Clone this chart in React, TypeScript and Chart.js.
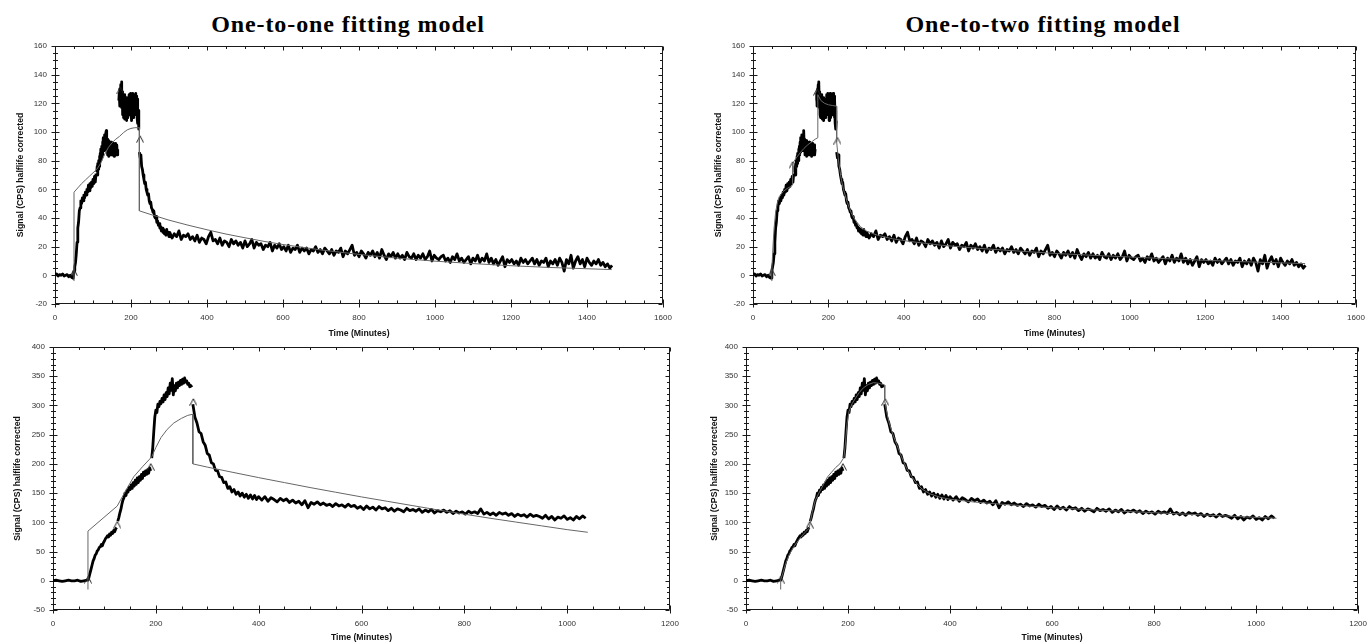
import React, { useEffect, useRef } from "react";
import { Chart, registerables } from "chart.js";
Chart.register(...registerables);

// ---------------- Top row (experiment 1) ----------------
const topTicksX = [0, 200, 400, 600, 800, 1000, 1200, 1400, 1600];
const topTicksY = [-20, 0, 20, 40, 60, 80, 100, 120, 140, 160];
const topMinorX = 50;
const topMinorY = 5;

// measured signal pieces: values sampled from a start minute at a fixed step
const topBaseline = [0.5, 1, -0.5, 0.5, 0, 1, -0.5, 0, 0.5, -1, 0, -1.5, -2]; // 0..48 / 4
const topRise1 = [3, 6, 9, 15, 23, 33, 37, 45, 47, 52, 50, 54, 52, 56, 54, 58, 56, 60, 58, 63, 59, 64, 61, 65, 62, 67, 64, 69, 65, 71]; // 50..108 / 2
const topRise2 = [72, 76, 70, 78, 74, 80, 76, 83, 78, 85, 80, 88, 82, 90, 84, 93, 86, 96, 88, 92, 98, 87, 94, 90, 99, 101, 88, 95, 84, 92, 86, 94, 83, 90, 85, 93, 84, 91, 86, 93, 85, 90, 84, 92, 86, 89, 83, 91, 85, 92, 84, 90, 86, 91, 84, 88]; // 110..165 / 1
const topPlateau = [122, 127, 118, 130, 124, 133, 120, 135, 117, 128, 112, 125, 110, 122, 114, 126, 109, 120, 113, 124, 108, 118, 112, 123, 110, 120, 115, 126, 112, 122, 116, 127, 114, 121, 108, 118, 112, 127, 110, 122, 115, 126, 112, 124, 118, 127, 114, 125, 110, 123, 106, 115, 102, 108]; // 168..221 / 1
const topDecayA = [86, 82, 84, 76, 74, 70, 67, 64, 65, 60, 58, 56, 57, 52, 50, 51, 47, 46, 44, 45, 41, 40, 41, 37, 38, 35, 36, 33, 34, 31, 33, 30, 32, 29, 31, 28, 32, 29, 30, 27]; // 222..300 / 2
const topDecayB = [
  30, 26, 29, 27, 31, 25, 28, 27, 29, 25,
  27, 24, 28, 23, 26, 25, 22, 27, 30, 24,
  25, 22, 26, 21, 24, 23, 20, 25, 22, 24,
  21, 23, 19, 24, 20, 22, 25, 19, 23, 21,
  22, 18, 21, 20, 23, 17, 21, 19, 22, 18,
  20, 17, 21, 16, 19, 18, 21, 16, 19, 17,
  19, 15, 18, 17, 20, 16, 18, 15, 19, 17,
  15, 18, 14, 17, 16, 19, 13, 17, 15, 18,
  21, 14, 16, 13, 17, 15, 12, 16, 14, 17,
  13, 16, 12, 18, 14, 11, 15, 13, 16, 12,
  15, 12, 14, 11, 16, 13, 12, 15, 11, 14,
  12, 15, 11, 13, 17, 10, 14, 12, 11, 13,
  14, 10, 12, 9, 13, 11, 15, 10, 12, 9,
  11, 13, 8, 12, 10, 14, 9, 12, 10, 15,
  9, 12, 8, 11, 7, 10, 13, 6, 11, 9,
  11, 8, 10, 7, 12, 9, 11, 8, 10, 12,
  8, 11, 7, 10, 9, 12, 6, 10, 8, 11,
  7, 12, 9, 3, 11, 8, 14, 5, 10, 13,
  8, 11, 6, 12, 9, 7, 10, 8, 11, 7,
  9, 6, 8, 5, 7,
]; // 302..1466 / 6

// fitted curves (minutes, signal)
const fitTopOneT = [50, 50, 60, 70, 80, 90, 100, 110, 120, 130, 140, 150, 160, 170, 180, 190, 200, 210, 222, 222, 250, 300, 350, 400, 450, 500, 550, 600, 700, 800, 900, 1000, 1100, 1200, 1300, 1400, 1465];
const fitTopOneY = [-4, 58, 61, 64, 66.5, 69, 71.5, 74, 78, 84, 89, 92.5, 95, 97, 99.5, 101.5, 102.5, 103, 103, 45, 42.6, 38.5, 35, 31.8, 28.8, 26.2, 23.7, 21.5, 17.7, 14.6, 12, 9.9, 8.2, 6.7, 5.5, 4.6, 4];
const fitTopTwoT = [50, 50, 53, 56, 60, 65, 70, 80, 90, 100, 105, 105, 115, 125, 135, 145, 155, 165, 172, 172, 180, 190, 200, 210, 222, 222, 226, 230, 235, 240, 250, 260, 270, 285, 300, 330, 370, 420, 500, 600, 700, 800, 900, 1000, 1100, 1200, 1300, 1400, 1465];
const fitTopTwoY = [-4, 4, 20, 33, 44, 51, 55, 58.5, 60.5, 62, 63, 78, 82, 85.5, 88.5, 91, 93, 95, 96, 126, 122, 120, 119, 118.5, 118, 93, 82, 74, 66, 60, 51, 44, 39, 34, 31, 28, 25.5, 23.5, 21, 18.8, 17, 15.3, 14, 12.8, 11.6, 10.5, 9.5, 8.7, 8.2];

// injection markers
const caretTopOneT = [50, 172, 224];
const caretTopOneY = [2, 129, 95];
const caretTopTwoT = [50, 105, 170, 224];
const caretTopTwoY = [2, 77, 128, 94];

// ---------------- Bottom row (experiment 2) ----------------
const botTicksX = [0, 200, 400, 600, 800, 1000, 1200];
const botTicksY = [-50, 0, 50, 100, 150, 200, 250, 300, 350, 400];
const botMinorX = 50;
const botMinorY = 10;

const botBaseline = [0, 1, 0, -1, 0, 1, 0, 0, 1, -1, 0, 1]; // 0..66 / 6
const botRise1 = [1, 6, 13, 20, 27, 34, 38, 44, 46, 51, 53, 57, 58, 62, 60, 65, 68, 72, 74, 77, 75, 80, 78, 83, 81, 86, 84, 89, 91]; // 68..124 / 2
const botRise2 = [102, 108, 116, 122, 131, 138, 142, 150, 146, 155, 152, 160, 156, 164, 158, 168, 162, 172, 165, 176, 168, 178, 172, 182, 175, 186, 180, 188, 182, 190, 184, 193, 188]; // 126..190 / 2
const botRise3 = [210, 228, 255, 280, 292, 288, 302, 298, 307, 303, 312, 306, 318, 310, 322, 315, 330, 320, 338, 326, 346, 318, 334, 325, 338, 330, 340, 334, 343, 336, 345, 338, 347, 340, 342, 336, 338, 332, 334, 331]; // 192..270 / 2
const botDecayA = [302, 280, 270, 255, 252, 238, 232, 218, 215, 202, 200, 189, 188, 178, 177, 168, 169, 158, 161, 152, 156, 148, 152, 145, 150, 143, 148, 141, 147, 140, 146, 139, 144]; // 272..400 / 4
const botDecayB = [
  138, 144, 136, 142, 139, 135, 141, 137, 140, 134,
  138, 133, 136, 130, 137, 125, 134, 131, 135, 130,
  133, 129, 131, 127, 132, 128, 130, 126, 131, 127,
  129, 124, 127, 122, 128, 123, 126, 121, 127, 123,
  125, 120, 124, 119, 123, 121, 118, 124, 120, 122,
  119, 123, 117, 121, 118, 122, 116, 120, 118, 121,
  117, 120, 115, 119, 116, 118, 114, 119, 116, 118,
  115, 123, 114, 117, 113, 116, 112, 117, 114, 116,
  112, 115, 110, 114, 111, 113, 109, 114, 110, 112,
  110, 107, 112, 106, 110, 104, 109, 107, 111, 105,
  108, 104, 110, 106, 111, 107,
]; // 406..1036 / 6

const fitBotOneT = [68, 68, 125, 140, 157, 175, 192, 200, 210, 222, 235, 250, 262, 272, 272, 300, 350, 400, 450, 500, 550, 600, 650, 700, 750, 800, 850, 900, 950, 1000, 1040];
const fitBotOneY = [-15, 85, 128, 152, 178, 196, 212, 228, 245, 259, 270, 278, 283, 285, 200, 194.5, 185.5, 176.5, 168, 159.5, 151.5, 143.5, 136, 128.5, 121, 114, 107, 100.5, 94, 87.5, 83];
const fitBotTwoT = [68, 68, 72, 78, 85, 92, 100, 108, 116, 124, 126, 130, 136, 144, 152, 160, 168, 176, 184, 192, 192, 195, 198, 202, 208, 215, 222, 230, 240, 250, 260, 268, 272, 272, 276, 280, 288, 296, 305, 315, 325, 335, 345, 360, 380, 400, 450, 500, 600, 700, 800, 900, 1000, 1040];
const fitBotTwoY = [-15, 2, 12, 30, 45, 56, 66, 75, 83, 90, 100, 118, 138, 152, 165, 178, 186, 194, 200, 211, 211, 236, 268, 290, 303, 313, 322, 330, 336, 339, 338, 336, 335, 308, 288, 272, 250, 232, 212, 192, 178, 166, 157, 149, 143, 139.5, 134.5, 131, 125, 120.5, 116.5, 112.5, 108.5, 107];

const caretBotT = [68, 125, 190, 273];
const caretBotY = [2, 96, 195, 306];

// traces: each is a list of pieces [startMinute, stepMinutes, values]
type Piece = { start: number; step: number; values: number[] };
const topTraces: Piece[][] = [
  [{ start: 0, step: 4, values: topBaseline }, { start: 50, step: 2, values: topRise1 }],
  [{ start: 110, step: 1, values: topRise2 }],
  [{ start: 168, step: 1, values: topPlateau }],
  [{ start: 222, step: 2, values: topDecayA }, { start: 302, step: 6, values: topDecayB }],
];
const botTraces: Piece[][] = [
  [{ start: 0, step: 6, values: botBaseline }, { start: 68, step: 2, values: botRise1 }],
  [{ start: 126, step: 2, values: botRise2 }],
  [{ start: 192, step: 2, values: botRise3 }],
  [{ start: 272, step: 4, values: botDecayA }, { start: 406, step: 6, values: botDecayB }],
];

const SANS = "'Liberation Sans', Arial, sans-serif";

function makeCaret() {
  const c = document.createElement("canvas");
  c.width = 8;
  c.height = 8;
  const g = c.getContext("2d")!;
  g.strokeStyle = "#222";
  g.lineWidth = 1;
  g.beginPath();
  g.moveTo(0.5, 7.5);
  g.lineTo(4, 0.8);
  g.lineTo(7.5, 7.5);
  g.stroke();
  return c;
}

type PanelCfg = {
  left: number; top: number; width: number; height: number;
  pad: { left: number; right: number; top: number; bottom: number };
  yAxisW: number; xAxisH: number; yTitlePad: number; xTitlePad: number;
  ticksX: number[]; ticksY: number[]; minorX: number; minorY: number;
  traces: Piece[][]; fitT: number[]; fitY: number[]; caretT: number[]; caretY: number[];
};

function drawFrame(chart: any, cfg: PanelCfg) {
  const { ctx, chartArea } = chart;
  const xs = chart.scales.x;
  const ys = chart.scales.y;
  const L = Math.round(chartArea.left) + 0.5;
  const R = Math.round(chartArea.right) - 0.5;
  const T = Math.round(chartArea.top) + 0.5;
  const B = Math.round(chartArea.bottom) - 0.5;
  ctx.save();
  ctx.strokeStyle = "#1a1a1a";
  ctx.lineWidth = 1;
  ctx.beginPath();
  ctx.moveTo(L, T); ctx.lineTo(R, T); ctx.lineTo(R, B); ctx.lineTo(L, B); ctx.closePath();
  const x0 = cfg.ticksX[0], x1 = cfg.ticksX[cfg.ticksX.length - 1];
  const nx = Math.round((x1 - x0) / cfg.minorX);
  for (let k = 0; k <= nx; k++) {
    const v = x0 + k * cfg.minorX;
    const major = cfg.ticksX.indexOf(v) >= 0;
    const p = Math.round(xs.getPixelForValue(v)) + 0.5;
    if (major) {
      ctx.moveTo(p, B + 4); ctx.lineTo(p, B - 4);
      ctx.moveTo(p, T); ctx.lineTo(p, T + 4);
    } else {
      ctx.moveTo(p, B); ctx.lineTo(p, B - 3);
      ctx.moveTo(p, T); ctx.lineTo(p, T + 2.5);
    }
  }
  const y0 = cfg.ticksY[0], y1 = cfg.ticksY[cfg.ticksY.length - 1];
  const ny = Math.round((y1 - y0) / cfg.minorY);
  for (let k = 0; k <= ny; k++) {
    const v = y0 + k * cfg.minorY;
    const major = cfg.ticksY.indexOf(v) >= 0;
    const p = Math.round(ys.getPixelForValue(v)) + 0.5;
    if (major) {
      ctx.moveTo(L - 4, p); ctx.lineTo(L + 4, p);
      ctx.moveTo(R, p); ctx.lineTo(R - 4, p);
    } else {
      ctx.moveTo(L - 2.5, p); ctx.lineTo(L + 2.5, p);
      ctx.moveTo(R, p); ctx.lineTo(R - 2.5, p);
    }
  }
  ctx.stroke();
  ctx.restore();
}

function Panel({ cfg, idx }: { cfg: PanelCfg; idx: number }) {
  const ref = useRef<HTMLCanvasElement>(null);
  useEffect(() => {
    const canvas = ref.current!;
    const caret = makeCaret();
    const datasets: any[] = [
      {
        data: cfg.fitT.map((t, i) => ({ x: t, y: cfg.fitY[i] })),
        borderColor: "#666", borderWidth: 1, pointRadius: 0, tension: 0, order: 0,
      },
      {
        data: cfg.caretT.map((t, i) => ({ x: t, y: cfg.caretY[i] })),
        showLine: false, pointStyle: caret, pointRadius: 4, order: 0,
      },
    ];
    cfg.traces.forEach((tr) => {
      const pts: any[] = [];
      tr.forEach((pc) => pc.values.forEach((v, i) => pts.push({ x: pc.start + i * pc.step, y: v })));
      datasets.push({
        data: pts, borderColor: "#000", borderWidth: 2.8, pointRadius: 0, tension: 0,
        borderJoinStyle: "round", order: 1,
      });
    });
    const xt = cfg.ticksX, yt = cfg.ticksY;
    const framePlugin = {
      id: "frameTicks" + idx,
      beforeDatasetsDraw(chart: any) {
        drawFrame(chart, cfg);
      },
    };
    const chart = new Chart(canvas, {
      type: "line",
      data: { datasets },
      plugins: [framePlugin as any],
      options: {
        responsive: false,
        animation: false,
        events: [],
        layout: { autoPadding: false, padding: cfg.pad } as any,
        plugins: {
          legend: { display: false },
          tooltip: { enabled: false },
        },
        scales: {
          x: {
            type: "linear",
            min: xt[0], max: xt[xt.length - 1],
            afterBuildTicks: (s: any) => { s.ticks = xt.map((v) => ({ value: v })); },
            afterFit: (s: any) => { s.height = cfg.xAxisH; },
            grid: { display: false },
            border: { display: false },
            ticks: {
              autoSkip: false, maxRotation: 0, padding: 1, color: "#333",
              font: { family: SANS, size: 8 },
              callback: (v: any) => String(v),
            },
            title: {
              display: true, text: "Time (Minutes)", color: "#111",
              font: { family: SANS, size: 8.7, weight: "bold" },
              padding: { top: 0, bottom: cfg.xTitlePad },
            },
          },
          y: {
            type: "linear",
            min: yt[0], max: yt[yt.length - 1],
            afterBuildTicks: (s: any) => { s.ticks = yt.map((v) => ({ value: v })); },
            afterFit: (s: any) => { s.width = cfg.yAxisW; },
            grid: { display: false },
            border: { display: false },
            ticks: {
              autoSkip: false, padding: 0, color: "#333",
              font: { family: SANS, size: 8 },
              callback: (v: any) => String(v),
            },
            title: {
              display: true, text: "Signal (CPS) halflife corrected", color: "#111",
              font: { family: SANS, size: 8.7, weight: "bold" },
              padding: { top: cfg.yTitlePad, bottom: 0 },
            },
          },
        } as any,
      },
    });
    return () => chart.destroy();
  }, []);
  return (
    <canvas
      ref={ref}
      width={cfg.width}
      height={cfg.height}
      style={{ position: "absolute", left: cfg.left, top: cfg.top, width: cfg.width, height: cfg.height }}
    />
  );
}

const panels: PanelCfg[] = [
  {
    left: 0, top: 30, width: 680, height: 315,
    pad: { left: 0, right: 17, top: 16, bottom: 0 },
    yAxisW: 55, xAxisH: 41, yTitlePad: 15, xTitlePad: 6,
    ticksX: topTicksX, ticksY: topTicksY, minorX: topMinorX, minorY: topMinorY,
    traces: topTraces, fitT: fitTopOneT, fitY: fitTopOneY, caretT: caretTopOneT, caretY: caretTopOneY,
  },
  {
    left: 690, top: 30, width: 678, height: 315,
    pad: { left: 8, right: 12, top: 16, bottom: 0 },
    yAxisW: 55, xAxisH: 41, yTitlePad: 15, xTitlePad: 6,
    ticksX: topTicksX, ticksY: topTicksY, minorX: topMinorX, minorY: topMinorY,
    traces: topTraces, fitT: fitTopTwoT, fitY: fitTopTwoY, caretT: caretTopTwoT, caretY: caretTopTwoY,
  },
  {
    left: 0, top: 335, width: 690, height: 308,
    pad: { left: 0, right: 20, top: 12, bottom: 0 },
    yAxisW: 53, xAxisH: 33, yTitlePad: 12, xTitlePad: 0,
    ticksX: botTicksX, ticksY: botTicksY, minorX: botMinorX, minorY: botMinorY,
    traces: botTraces, fitT: fitBotOneT, fitY: fitBotOneY, caretT: caretBotT, caretY: caretBotY,
  },
  {
    left: 690, top: 335, width: 678, height: 308,
    pad: { left: 3, right: 6, top: 12, bottom: 0 },
    yAxisW: 53, xAxisH: 33, yTitlePad: 16, xTitlePad: 0,
    ticksX: botTicksX, ticksY: botTicksY, minorX: botMinorX, minorY: botMinorY,
    traces: botTraces, fitT: fitBotTwoT, fitY: fitBotTwoY, caretT: caretBotT, caretY: caretBotY,
  },
];

const titleStyle: React.CSSProperties = {
  position: "absolute",
  top: 12,
  transform: "translateX(-50%)",
  whiteSpace: "nowrap",
  fontFamily: "'Liberation Serif', 'DejaVu Serif', serif",
  fontWeight: "bold",
  fontSize: 24,
  lineHeight: "24px",
  letterSpacing: "0.9px",
  color: "#000",
};

export default function App() {
  return (
    <div style={{ position: "fixed", left: 0, top: 0, width: 1368, height: 643, background: "#fff", overflow: "hidden" }}>
      <div style={{ ...titleStyle, left: 348 }}>One-to-one fitting model</div>
      <div style={{ ...titleStyle, left: 1043 }}>One-to-two fitting model</div>
      {panels.map((p, i) => (
        <Panel key={i} cfg={p} idx={i} />
      ))}
    </div>
  );
}
